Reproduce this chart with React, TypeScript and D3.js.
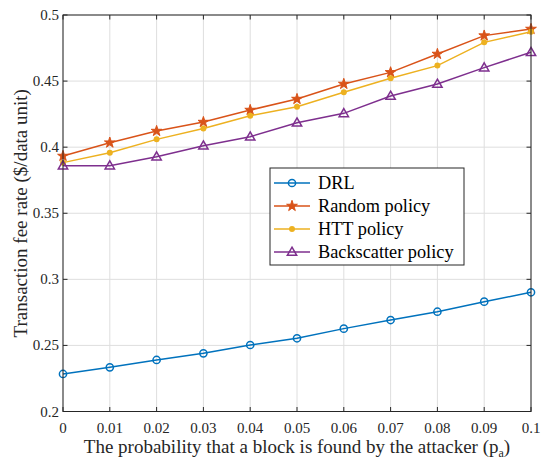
import React, { useEffect, useRef } from "react";
import * as d3 from "d3";

const xValues = [0, 0.01, 0.02, 0.03, 0.04, 0.05, 0.06, 0.07, 0.08, 0.09, 0.1];
const drl = [0.2284, 0.2334, 0.239, 0.244, 0.2503, 0.2554, 0.2627, 0.2692, 0.2755, 0.2831, 0.2902];
const randomPolicy = [0.3933, 0.4034, 0.4122, 0.419, 0.4281, 0.4364, 0.4478, 0.4566, 0.4705, 0.4844, 0.4894];
const httPolicy = [0.3883, 0.3958, 0.4059, 0.4142, 0.4238, 0.4306, 0.4415, 0.4521, 0.4617, 0.4793, 0.4874];
const backscatterPolicy = [0.386, 0.386, 0.3928, 0.4011, 0.4079, 0.4185, 0.4256, 0.4387, 0.4478, 0.4602, 0.4718];
const xTicks = [0, 0.01, 0.02, 0.03, 0.04, 0.05, 0.06, 0.07, 0.08, 0.09, 0.1];
const yTicks = [0.2, 0.25, 0.3, 0.35, 0.4, 0.45, 0.5];

const seriesList = [
  { name: "DRL", values: drl, color: "#0072BD", marker: "circle" },
  { name: "Random policy", values: randomPolicy, color: "#D95319", marker: "star" },
  { name: "HTT policy", values: httPolicy, color: "#EDB120", marker: "dot" },
  { name: "Backscatter policy", values: backscatterPolicy, color: "#7E2F8E", marker: "triangle" },
];

function App() {
  const ref = useRef<SVGSVGElement>(null);

  useEffect(() => {
    const svg = d3.select(ref.current);
    svg.selectAll("*").remove();

    const left = 63, right = 531, top = 15, bottom = 411.5;
    const font = "'Liberation Serif', 'Times New Roman', serif";
    const axisColor = "#262626";

    const x = d3.scaleLinear().domain([0, 0.1]).range([left, right]);
    const y = d3.scaleLinear().domain([0.2, 0.5]).range([bottom, top]);

    svg.append("rect").attr("x", left).attr("y", top)
      .attr("width", right - left).attr("height", bottom - top).attr("fill", "#fff");

    // grid
    const grid = svg.append("g").attr("stroke", "#dedede").attr("stroke-width", 1);
    xTicks.forEach((t) => {
      grid.append("line").attr("x1", x(t)).attr("x2", x(t)).attr("y1", top).attr("y2", bottom);
    });
    yTicks.forEach((t) => {
      grid.append("line").attr("x1", left).attr("x2", right).attr("y1", y(t)).attr("y2", y(t));
    });

    // lines and markers
    const line = d3.line<number>().x((d, i) => x(xValues[i])).y((d) => y(d));
    const star = d3.symbol().type(d3.symbolStar).size(36);
    const tri = d3.symbol().type(d3.symbolTriangle).size(38);

    const drawMarker = (g: any, marker: string, color: string, cx: number, cy: number) => {
      if (marker === "circle") {
        g.append("circle").attr("cx", cx).attr("cy", cy).attr("r", 3.6)
          .attr("fill", "none").attr("stroke", color).attr("stroke-width", 1.5);
      } else if (marker === "star") {
        g.append("path").attr("d", star()).attr("transform", `translate(${cx},${cy})`)
          .attr("fill", color).attr("stroke", color).attr("stroke-width", 1);
      } else if (marker === "dot") {
        g.append("circle").attr("cx", cx).attr("cy", cy).attr("r", 3).attr("fill", color);
      } else {
        g.append("path").attr("d", tri()).attr("transform", `translate(${cx},${cy + 0.6})`)
          .attr("fill", "none").attr("stroke", color).attr("stroke-width", 1.5);
      }
    };

    seriesList.forEach((s) => {
      svg.append("path").datum(s.values).attr("d", line)
        .attr("fill", "none").attr("stroke", s.color).attr("stroke-width", 1.5);
      const g = svg.append("g");
      s.values.forEach((v, i) => drawMarker(g, s.marker, s.color, x(xValues[i]), y(v)));
    });

    // axes box with inward ticks
    const axes = svg.append("g").attr("stroke", axisColor).attr("stroke-width", 1);
    axes.append("rect").attr("x", left).attr("y", top)
      .attr("width", right - left).attr("height", bottom - top).attr("fill", "none");
    xTicks.forEach((t) => {
      axes.append("line").attr("x1", x(t)).attr("x2", x(t)).attr("y1", bottom).attr("y2", bottom - 4.5);
      axes.append("line").attr("x1", x(t)).attr("x2", x(t)).attr("y1", top).attr("y2", top + 4.5);
    });
    yTicks.forEach((t) => {
      axes.append("line").attr("x1", left).attr("x2", left + 4.5).attr("y1", y(t)).attr("y2", y(t));
      axes.append("line").attr("x1", right).attr("x2", right - 4.5).attr("y1", y(t)).attr("y2", y(t));
    });

    const labels = svg.append("g").attr("font-family", font).attr("fill", axisColor);
    xTicks.forEach((t) => {
      labels.append("text").attr("x", x(t)).attr("y", bottom + 21).attr("text-anchor", "middle")
        .attr("font-size", 15).text(d3.format("~g")(t));
    });
    yTicks.forEach((t) => {
      labels.append("text").attr("x", left - 4).attr("y", y(t) + 5).attr("text-anchor", "end")
        .attr("font-size", 15).text(d3.format("~g")(t));
    });

    const xl = labels.append("text").attr("x", (left + right) / 2).attr("y", 453)
      .attr("text-anchor", "middle").attr("font-size", 19);
    xl.append("tspan").text("The probability that a block is found by the attacker (p");
    xl.append("tspan").attr("font-size", 12).attr("dy", 4).text("a");
    xl.append("tspan").attr("dy", -4).text(")");

    labels.append("text").attr("transform", `translate(27,${(top + bottom) / 2}) rotate(-90)`)
      .attr("text-anchor", "middle").attr("font-size", 19)
      .text("Transaction fee rate ($/data unit)");

    // legend
    const lg = svg.append("g");
    lg.append("rect").attr("x", 270).attr("y", 168).attr("width", 194).attr("height", 97)
      .attr("fill", "#fff").attr("stroke", axisColor).attr("stroke-width", 1);
    seriesList.forEach((s, i) => {
      const ly = 183 + i * 23;
      lg.append("line").attr("x1", 274).attr("x2", 310).attr("y1", ly).attr("y2", ly)
        .attr("stroke", s.color).attr("stroke-width", 1.5);
      drawMarker(lg, s.marker, s.color, 292, ly);
      lg.append("text").attr("x", 318).attr("y", ly + 6).attr("font-family", font)
        .attr("font-size", 18.3).attr("fill", "#000").text(s.name);
    });
  }, []);

  return <svg ref={ref} width={541} height={459} style={{ position: "absolute", left: 0, top: 0 }} />;
}

export default App;
